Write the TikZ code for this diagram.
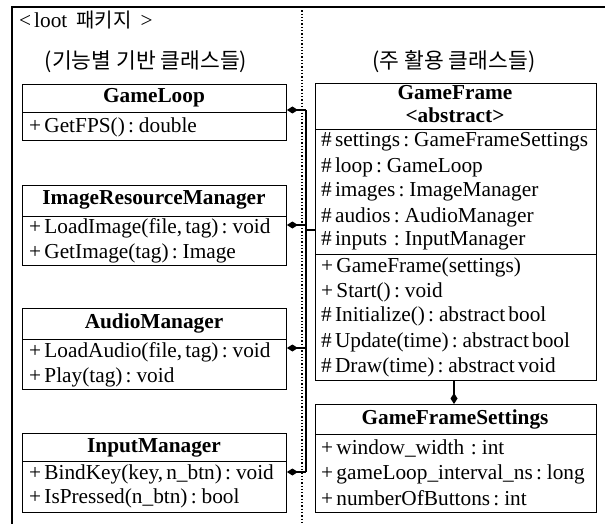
\documentclass[tikz,border=0pt]{standalone}
\usepackage{fontspec}
\setmainfont[WordSpace=0.6]{Liberation Serif}
\newfontfamily\kr{Noto Sans CJK KR}
\usetikzlibrary{arrows.meta}
\begin{document}
\begin{tikzpicture}[x=1pt,y=-1pt,
  box/.style={draw, line width=0.9pt, inner sep=0pt, anchor=north west},
  txt/.style={anchor=west, inner sep=0pt, font=\fontsize{21.3}{23}\selectfont},
  ttl/.style={inner sep=0pt, font=\fontsize{21.3}{23}\selectfont\bfseries},
  conn/.style={line width=1.6pt},
  comp/.style={{Diamond[length=11pt,width=7pt]}-}]
\useasboundingbox (0,0) rectangle (605,524);
% outer frame and separator
\draw[line width=1.6pt] (12,524) -- (12,7) -- (605,7);
\draw[line width=1.3pt, dotted] (302,7) -- (302,524);
\node[anchor=west, inner sep=0pt, font=\fontsize{21.3}{23}\selectfont] (pkg) at (19,20) {<\hspace{3pt}loot\hspace{9pt}{\kr\fontsize{20}{22}\selectfont 패키지}\hspace{9pt}>};
\node[inner sep=0pt, font=\kr\fontsize{21.5}{23}\selectfont] (capL) at (146,62) {(기능별 기반 클래스들)};
\node[inner sep=0pt, font=\kr\fontsize{21.5}{23}\selectfont] (capR) at (454,62) {(주 활용 클래스들)};
% GameLoop
\node[box, minimum width=264pt, minimum height=56pt] (gl) at (22,84) {};
\draw[line width=0.9pt] (22,112) -- (286,112);
\node[ttl] (glN) at (154,98) {GameLoop};
\node[txt] (gl1) at (29,127) {+ GetFPS() : double};
% ImageResourceManager
\node[box, minimum width=264pt, minimum height=80pt] (im) at (22,185) {};
\draw[line width=0.9pt] (22,216) -- (286,216);
\node[ttl] (imN) at (154,200) {ImageResourceManager};
\node[txt] (im1) at (29,228) {+ LoadImage(file, tag) : void};
\node[txt] (im2) at (29,253) {+ GetImage(tag) : Image};
% AudioManager
\node[box, minimum width=264pt, minimum height=81pt] (am) at (22,308) {};
\draw[line width=0.9pt] (22,339) -- (286,339);
\node[ttl] (amN) at (154,323) {AudioManager};
\node[txt] (am1) at (29,352) {+ LoadAudio(file, tag) : void};
\node[txt] (am2) at (29,377) {+ Play(tag) : void};
% InputManager
\node[box, minimum width=264pt, minimum height=79pt] (in) at (22,433) {};
\draw[line width=0.9pt] (22,461) -- (286,461);
\node[ttl] (inN) at (154,448) {InputManager};
\node[txt] (in1) at (29,474) {+ BindKey(key, n\_btn) : void};
\node[txt] (in2) at (29,498) {+ IsPressed(n\_btn) : bool};
% GameFrame
\node[box, minimum width=281pt, minimum height=297pt] (gf) at (315,83) {};
\draw[line width=0.9pt] (315,129) -- (596,129);
\draw[line width=0.9pt] (315,254) -- (596,254);
\node[ttl] (gfN) at (455,93) {GameFrame};
\node[ttl] (gfA) at (455,115) {<abstract>};
\node[txt] (gf1) at (321,142) {\# settings : GameFrameSettings};
\node[txt] (gf2) at (321,167) {\# loop : GameLoop};
\node[txt] (gf3) at (321,192) {\# images : ImageManager};
\node[txt] (gf4) at (321,217) {\# audios : AudioManager};
\node[txt] (gf5) at (321,241) {\# inputs \,: InputManager};
\node[txt] (gf6) at (321,267) {+ GameFrame(settings)};
\node[txt] (gf7) at (321,292) {+ Start() : void};
\node[txt] (gf8) at (321,316) {\# Initialize() : abstract bool};
\node[txt] (gf9) at (321,342) {\# Update(time) : abstract bool};
\node[txt] (gf10) at (321,367) {\# Draw(time) : abstract void};
% GameFrameSettings
\node[box, minimum width=281pt, minimum height=108pt] (gs) at (315,404) {};
\draw[line width=0.9pt] (315,434) -- (596,434);
\node[ttl] (gsN) at (455,419) {GameFrameSettings};
\node[txt] (gs1) at (321,448) {+ window\_width \,: int};
\node[txt] (gs2) at (321,474) {+ gameLoop\_interval\_ns : long};
\node[txt] (gs3) at (321,498) {+ numberOfButtons : int};
% connectors
\coordinate (b1) at (306,110);
\coordinate (b2) at (306,225);
\coordinate (b3) at (306,348);
\coordinate (b4) at (306,472);
\coordinate (bj) at (306,230);
\draw[conn] (b1) -- (b4);
\draw[conn, comp] (gl.east |- b1) -- (b1);
\draw[conn, comp] (im.east |- b2) -- (b2);
\draw[conn, comp] (am.east |- b3) -- (b3);
\draw[conn, comp] (in.east |- b4) -- (b4);
\draw[conn] (bj) -- (gf.west |- bj);
\draw[conn, comp] (gs.north -| 454,0) -- (gf.south -| 454,0);
\end{tikzpicture}
\end{document}
